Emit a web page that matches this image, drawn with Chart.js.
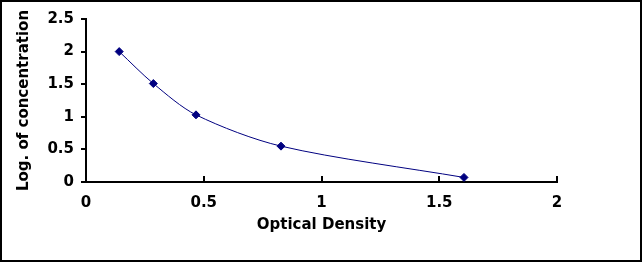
<!DOCTYPE html>
<html>
<head>
<meta charset="utf-8">
<script src="https://cdn.jsdelivr.net/npm/chart.js@4/dist/chart.umd.min.js"></script>
<style>
  html, body { margin: 0; padding: 0; background: #fff; }
  #wrap { width: 642px; height: 262px; position: relative; }
</style>
</head>
<body>
<div id="wrap"><canvas id="curve" width="642" height="262"></canvas></div>
<script>
// dati della curva standard
const odValues = [0.141, 0.286, 0.467, 0.828, 1.605];
const logConc  = [2.0, 1.51, 1.03, 0.55, 0.07];
const xTicks = [0, 0.5, 1, 1.5, 2];
const yTicks = [0, 0.5, 1, 1.5, 2, 2.5];

const NAVY = '#000080';
const FONT = { family: '"DejaVu Sans", Verdana, sans-serif', size: 15, weight: 'bold' };

// cornice esterna + tacche interne sull'asse x
const framePlugin = {
  id: 'frame',
  afterDraw(chart) {
    const ctx = chart.ctx;
    const x = chart.scales.x;
    ctx.save();
    ctx.strokeStyle = '#000';
    ctx.lineWidth = 2;
    ctx.beginPath();
    xTicks.forEach(v => {
      const px = Math.round(x.getPixelForValue(v));
      ctx.moveTo(px, x.top);
      ctx.lineTo(px, x.top - 6);
    });
    ctx.stroke();
    ctx.strokeRect(1, 1, chart.width - 2, chart.height - 2);
    ctx.restore();
  }
};

const plain = v => String(v);

new Chart(document.getElementById('curve'), {
  type: 'scatter',
  data: {
    datasets: [{
      data: odValues.map((v, i) => ({ x: v, y: logConc[i] })),
      showLine: true,
      borderColor: NAVY,
      borderWidth: 1,
      tension: 0.3,
      pointStyle: 'rectRot',
      pointRadius: 4,
      pointBackgroundColor: NAVY,
      pointBorderColor: NAVY
    }]
  },
  options: {
    responsive: false,
    animation: false,
    layout: { padding: { left: 0, top: 19, right: 85, bottom: 0 } },
    plugins: { legend: { display: false }, tooltip: { enabled: false } },
    scales: {
      x: {
        type: 'linear', min: 0, max: 2,
        afterBuildTicks: s => { s.ticks = xTicks.map(v => ({ value: v })); },
        afterFit: s => { s.height = 80; },
        grid: { display: true, drawOnChartArea: false, drawTicks: false },
        border: { display: true, color: '#000', width: 2 },
        ticks: { color: '#000', font: FONT, padding: 12, maxRotation: 0, callback: plain },
        title: { display: true, text: 'Optical Density', color: '#000', font: FONT, padding: { top: 28, bottom: 28 } }
      },
      y: {
        type: 'linear', min: 0, max: 2.5,
        afterBuildTicks: s => { s.ticks = yTicks.map(v => ({ value: v })); },
        afterFit: s => { s.width = 86; },
        grid: { display: true, drawOnChartArea: false, drawTicks: true, tickLength: 5, color: '#000', lineWidth: 2 },
        border: { display: true, color: '#000', width: 2 },
        ticks: { color: '#000', font: FONT, padding: 7, callback: plain },
        title: { display: true, text: 'Log. of concentration', color: '#000', font: FONT, padding: { top: 15, bottom: 15 } }
      }
    }
  },
  plugins: [framePlugin]
});
</script>
</body>
</html>
